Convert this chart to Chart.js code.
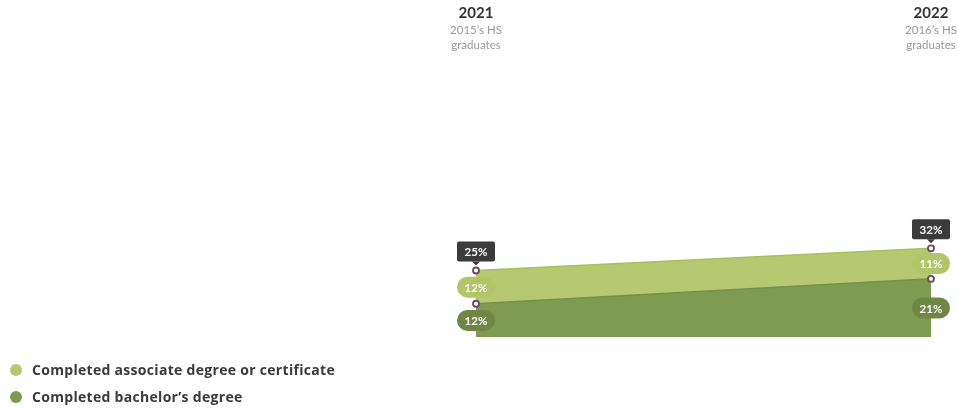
<!DOCTYPE html>
<html lang="en">
<head>
    <meta charset="UTF-8">
    <title>HS graduates degree completion</title>
    <script src="https://cdn.jsdelivr.net/npm/chart.js@4.4.0/dist/chart.umd.min.js"></script>
    <style>
        * { margin: 0; padding: 0; box-sizing: border-box; }
        body { width: 958px; height: 409px; background: #fff; font-family: 'Lato', sans-serif; overflow: hidden; }
        .wrap { position: relative; width: 958px; height: 409px; }
        .legend { position: absolute; left: 10px; top: 356px; }
        .legend-item { display: flex; align-items: center; height: 27px; font-family: 'Open Sans', sans-serif; font-size: 14px; letter-spacing: 0.3px; font-weight: 700; color: #3a3a3a; }
        .dot { width: 12px; height: 12px; border-radius: 50%; margin-right: 10px; }
    </style>
</head>
<body>
<div class="wrap">
    <canvas id="chart" width="958" height="409"></canvas>
    <div class="legend">
        <div class="legend-item"><span class="dot" style="background:#b5c96e"></span>Completed associate degree or certificate</div>
        <div class="legend-item"><span class="dot" style="background:#7c9a4f"></span>Completed bachelor’s degree</div>
    </div>
</div>
<script>
    const years = ['2021', '2022'];
    const cohorts = [['2015’s HS', 'graduates'], ['2016’s HS', 'graduates']];
    const bachelor = [12, 21];
    const associate = [12, 11];
    const totals = [25, 32];

    const lightGreen = '#b6c971';
    const darkGreen = '#7f9b51';

    function roundRect(ctx, x, y, w, h, r) {
        ctx.beginPath();
        ctx.moveTo(x + r, y);
        ctx.arcTo(x + w, y, x + w, y + h, r);
        ctx.arcTo(x + w, y + h, x, y + h, r);
        ctx.arcTo(x, y + h, x, y, r);
        ctx.arcTo(x, y, x + w, y, r);
        ctx.closePath();
    }

    const labelPlugin = {
        id: 'labels',
        afterDraw(chart) {
            const ctx = chart.ctx;
            const xs = chart.scales.x;
            const ys = chart.scales.y;
            ctx.save();
            ctx.textAlign = 'center';
            ctx.textBaseline = 'middle';

            years.forEach((yr, i) => {
                const x = xs.getPixelForValue(i);
                // column header
                ctx.fillStyle = '#333';
                ctx.font = 'bold 15px Lato';
                ctx.fillText(yr, x, 13);
                ctx.fillStyle = '#999';
                ctx.font = '11.5px Lato';
                ctx.fillText(cohorts[i][0], x, 30);
                ctx.fillText(cohorts[i][1], x, 45);

                const yBase = ys.getPixelForValue(0);
                const yMid = ys.getPixelForValue(bachelor[i]);
                const yTop = ys.getPixelForValue(bachelor[i] + associate[i]);

                // pills
                const pw = 38, ph = 21;
                ctx.font = 'bold 11.5px Lato';
                ctx.fillStyle = '#6f8745';
                roundRect(ctx, x - pw / 2, (yMid + yBase) / 2 - ph / 2, pw, ph, ph / 2);
                ctx.fill();
                ctx.fillStyle = '#fff';
                ctx.fillText(bachelor[i] + '%', x, (yMid + yBase) / 2 + 1);

                ctx.fillStyle = '#b1c669';
                roundRect(ctx, x - pw / 2, (yTop + yMid) / 2 - ph / 2, pw, ph, ph / 2);
                ctx.fill();
                ctx.fillStyle = '#fff';
                ctx.fillText(associate[i] + '%', x, (yTop + yMid) / 2 + 1);

                // total box
                const bw = 38, bh = 20;
                const bBottom = yTop - 9;
                ctx.fillStyle = '#3b3b3b';
                roundRect(ctx, x - bw / 2, bBottom - bh, bw, bh, 2);
                ctx.fill();
                ctx.beginPath();
                ctx.moveTo(x - 4, bBottom);
                ctx.lineTo(x + 4, bBottom);
                ctx.lineTo(x, bBottom + 4);
                ctx.closePath();
                ctx.fill();
                ctx.fillStyle = '#fff';
                ctx.fillText(totals[i] + '%', x, bBottom - bh / 2 + 1);

                // markers
                [yTop, yMid].forEach(py => {
                    ctx.beginPath();
                    ctx.arc(x, py, 3, 0, Math.PI * 2);
                    ctx.fillStyle = '#fff';
                    ctx.fill();
                    ctx.lineWidth = 1.8;
                    ctx.strokeStyle = '#6d4a5d';
                    ctx.stroke();
                });
            });
            ctx.restore();
        }
    };

    new Chart(document.getElementById('chart'), {
        type: 'line',
        data: {
            labels: years,
            datasets: [{
                label: 'Completed bachelor’s degree',
                data: bachelor,
                fill: 'origin',
                backgroundColor: darkGreen,
                borderColor: '#74904a',
                borderWidth: 1.5,
                pointRadius: 0,
                clip: false
            }, {
                label: 'Completed associate degree or certificate',
                data: associate,
                fill: '-1',
                backgroundColor: lightGreen,
                borderColor: '#a9bf61',
                borderWidth: 1.5,
                pointRadius: 0,
                clip: false
            }]
        },
        options: {
            responsive: false,
            animation: false,
            events: [],
            layout: { padding: { left: 476, right: 27, top: 60, bottom: 72 } },
            plugins: { legend: { display: false }, tooltip: { enabled: false } },
            scales: {
                x: { display: false },
                y: { display: false, stacked: true, min: 0, max: 100 }
            }
        },
        plugins: [labelPlugin]
    });
</script>
</body>
</html>
